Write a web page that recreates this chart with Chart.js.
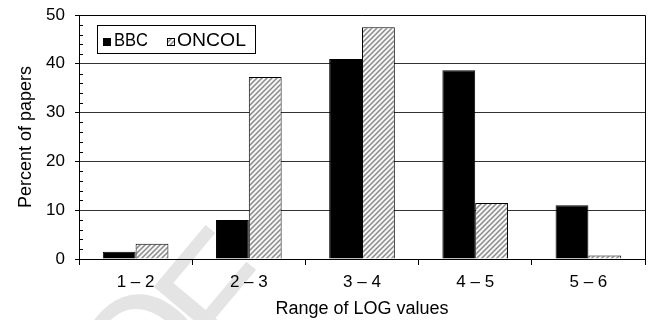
<!DOCTYPE html>
<html>
<head>
<meta charset="utf-8">
<script src="https://cdn.jsdelivr.net/npm/chart.js@4/dist/chart.umd.min.js"></script>
<style>
  html, body { margin: 0; padding: 0; background: #fff; }
  #wrap { width: 651px; height: 320px; position: relative; }
</style>
</head>
<body>
<div id="wrap"><canvas id="c" width="651" height="320"></canvas></div>
<script>
// Share of papers per range of LOG values
const categories = ['1 – 2', '2 – 3', '3 – 4', '4 – 5', '5 – 6'];
const bbc = [1.5, 8.0, 41.0, 38.7, 11.0];
const oncol = [3.1, 37.3, 47.5, 11.5, 0.7];
const seriesNames = ['BBC', 'ONCOL'];
const yTicks = [0, 10, 20, 30, 40, 50];
const yMinorStep = 2;

const FONT = '"Liberation Sans", Arial, Helvetica, sans-serif';
Chart.defaults.font.family = FONT;
Chart.defaults.color = '#000';

// diagonal hatch fill
function hatchPattern() {
  const s = 5;
  const c = document.createElement('canvas');
  c.width = s; c.height = s;
  const g = c.getContext('2d');
  g.fillStyle = '#f6f6f6';
  g.fillRect(0, 0, s, s);
  g.strokeStyle = '#8a8a8a';
  g.lineWidth = 1.5;
  g.beginPath();
  g.moveTo(-1, s + 1); g.lineTo(s + 1, -1);
  g.moveTo(-1, 1); g.lineTo(1, -1);
  g.moveTo(s - 1, s + 1); g.lineTo(s + 1, s - 1);
  g.stroke();
  return g.createPattern(c, 'repeat');
}
const hatch = hatchPattern();

// faint background lettering, painted underneath the chart
const watermark = {
  id: 'watermark',
  afterDraw(chart) {
    const ctx = chart.ctx;
    const size = 165;
    const angle = -50 * Math.PI / 180;
    ctx.save();
    ctx.globalCompositeOperation = 'destination-over';
    ctx.fillStyle = '#e4e4e4';
    ctx.font = size + 'px ' + FONT;
    // letter F, top-left corner anchored
    ctx.save();
    ctx.translate(150, 284);
    ctx.rotate(angle);
    ctx.textBaseline = 'alphabetic';
    ctx.textAlign = 'left';
    ctx.fillText('F', -0.08 * size, 0.716 * size);
    ctx.restore();
    // letter O, centre anchored
    ctx.save();
    ctx.translate(140, 352);
    ctx.rotate(angle);
    ctx.textAlign = 'center';
    ctx.textBaseline = 'alphabetic';
    ctx.fillText('O', 0, 0.36 * size);
    ctx.restore();
    ctx.restore();
  }
};

// plot frame and minor ticks
const frame = {
  id: 'frame',
  afterDatasetsDraw(chart) {
    const { ctx, chartArea: a, scales } = chart;
    const y = scales.y;
    ctx.save();
    ctx.strokeStyle = '#000';
    ctx.lineWidth = 1;
    ctx.beginPath();
    ctx.moveTo(Math.round(a.left) + 0.5, Math.round(a.top) + 0.5);
    ctx.lineTo(Math.round(a.right) + 0.5, Math.round(a.top) + 0.5);
    ctx.lineTo(Math.round(a.right) + 0.5, Math.round(a.bottom) + 0.5);
    ctx.stroke();
    ctx.beginPath();
    const lo = yTicks[0], hi = yTicks[yTicks.length - 1];
    for (let v = lo + yMinorStep; v < hi; v += yMinorStep) {
      if (yTicks.includes(v)) continue;
      const py = Math.round(y.getPixelForValue(v)) + 0.5;
      ctx.moveTo(a.left, py);
      ctx.lineTo(a.left + 4, py);
    }
    ctx.stroke();
    ctx.restore();
  }
};

// boxed legend inside the plot
const legendBox = {
  id: 'legendBox',
  afterDraw(chart) {
    const ctx = chart.ctx;
    const ds = chart.data.datasets;
    ctx.save();
    ctx.fillStyle = '#fff';
    ctx.fillRect(98, 26, 158, 27);
    ctx.strokeStyle = '#000';
    ctx.lineWidth = 1;
    ctx.strokeRect(97.5, 25.5, 158, 28);
    ctx.font = '18px ' + FONT;
    ctx.textBaseline = 'alphabetic';
    const items = [
      { sx: 103, tx: 114, tw: 34 },
      { sx: 167, tx: 177, tw: 69 }
    ];
    items.forEach((it, i) => {
      ctx.fillStyle = ds[i].backgroundColor;
      ctx.fillRect(it.sx, 38, 8, 8);
      ctx.strokeStyle = '#000';
      ctx.strokeRect(it.sx + 0.5, 38.5, 7, 7);
      ctx.fillStyle = '#000';
      const w = ctx.measureText(ds[i].label).width;
      ctx.save();
      ctx.translate(it.tx, 46);
      ctx.scale(it.tw / w, 1);
      ctx.fillText(ds[i].label, 0, 0);
      ctx.restore();
    });
    ctx.restore();
  }
};

new Chart(document.getElementById('c'), {
  type: 'bar',
  data: {
    labels: categories,
    datasets: [
      { label: seriesNames[0], data: bbc, backgroundColor: '#000', borderColor: '#000', borderWidth: 1 },
      { label: seriesNames[1], data: oncol, backgroundColor: hatch, borderColor: '#000', borderWidth: 1 }
    ]
  },
  options: {
    responsive: false,
    animation: false,
    devicePixelRatio: 1,
    layout: { padding: { left: 0, right: 6, top: 15, bottom: 0 } },
    datasets: { bar: { categoryPercentage: 0.58, barPercentage: 1 } },
    plugins: { legend: { display: false }, tooltip: { enabled: false } },
    scales: {
      x: {
        grid: { display: true, drawOnChartArea: false, drawTicks: true, tickLength: 6, tickColor: '#000', offset: true },
        border: { color: '#000', width: 1 },
        ticks: { color: '#000', font: { size: 17 }, padding: 7, maxRotation: 0 },
        title: { display: true, text: 'Range of LOG values', color: '#000', font: { size: 18 }, padding: { top: 0, bottom: 0 } },
        afterFit(s) { s.height = 61; s.paddingLeft = 0; s.paddingRight = 0; }
      },
      y: {
        min: yTicks[0],
        max: yTicks[yTicks.length - 1],
        afterBuildTicks(s) { s.ticks = yTicks.map(v => ({ value: v })); },
        ticks: { color: '#000', font: { size: 17 }, padding: 10 },
        grid: { color: '#333', tickColor: '#000', tickLength: 4 },
        border: { color: '#000', width: 1 },
        title: { display: true, text: 'Percent of papers', color: '#000', font: { size: 18 }, padding: { top: 15, bottom: 0 } },
        afterFit(s) { s.width = 79; s.paddingTop = 0; s.paddingBottom = 0; }
      }
    }
  },
  plugins: [watermark, frame, legendBox]
});
</script>
</body>
</html>
